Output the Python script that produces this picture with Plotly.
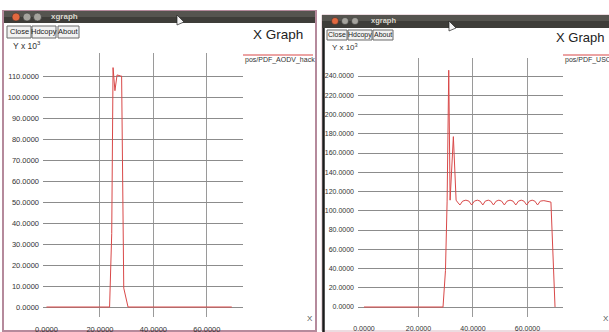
import plotly.graph_objects as go

W, H = 609, 332

# ---- data (x in data units, y in units of 10^3) ----
left_x = [0, 23.6, 24.4, 24.9, 25.6, 26.4, 27.8, 28.1, 28.5, 28.7, 28.8, 28.9, 30.5, 69.3]
left_y = [0, 0, 35, 114, 103, 110.5, 110, 110, 60, 21, 20, 9, 0, 0]

right_x = [0, 29.0, 29.9, 30.5, 31.1, 31.6, 32.8, 33.8, 34.3,
           35.2, 36.2, 37.4, 38.5,
           39.5, 40.5, 41.6, 42.6,
           43.6, 44.5, 45.6, 46.5,
           47.5, 48.5, 49.5, 50.5,
           51.5, 52.5, 53.6, 54.7,
           55.7, 56.7, 57.7, 58.7,
           59.7, 60.7, 61.7, 62.7,
           63.7, 64.7, 66.0, 68.6, 69.0, 70.1]
right_y = [0, 0, 38, 110, 246, 111, 177, 111, 109,
           106, 110, 111, 110,
           106, 110, 111, 110,
           106, 110, 111, 110,
           106, 110, 111, 110,
           106, 110, 111, 110,
           106, 110, 111, 110,
           106, 110, 111, 110,
           106, 110, 110.5, 109, 80, 0]

left_yticks = [0, 10, 20, 30, 40, 50, 60, 70, 80, 90, 100, 110]
right_yticks = [0, 20, 40, 60, 80, 100, 120, 140, 160, 180, 200, 220, 240]
xticks = [0, 20, 40, 60]
xgrid = [20, 40, 60]

left_legend = "pos/PDF_AODV_hack"
right_legend = "pos/PDF_USO"

LINE = "#d94848"
GRID = "#8c8c8c"
FONT = "Liberation Sans"


def px(x):
    return x / W


def py(y):
    return 1 - y / H


fig = go.Figure()
fig.add_trace(go.Scatter(x=left_x, y=left_y, mode="lines", xaxis="x", yaxis="y",
                         line=dict(color=LINE, width=1), hoverinfo="skip", showlegend=False))
fig.add_trace(go.Scatter(x=right_x, y=right_y, mode="lines", xaxis="x2", yaxis="y2",
                         line=dict(color=LINE, width=1), hoverinfo="skip", showlegend=False))


def xaxis(domain, rng, size, anchor):
    return dict(domain=domain, range=rng, tickvals=xticks, tickformat=".4f", anchor=anchor,
                showgrid=False, zeroline=False, showline=False, ticks="", automargin=False,
                ticklabelstandoff=6, tickfont=dict(family=FONT, size=size, color="#333"),
                minor=dict(tickvals=xgrid, showgrid=True, gridcolor="#9a9a9a", gridwidth=1, ticks=""),
                fixedrange=True)


def yaxis(domain, rng, ticks, size, anchor):
    return dict(domain=domain, range=rng, tickvals=ticks, tickformat=".4f", automargin=False,
                showgrid=True, gridcolor=GRID, gridwidth=1, zeroline=False, showline=False,
                ticks="", ticklabelstandoff=3, anchor=anchor,
                tickfont=dict(family=FONT, size=size, color="#333"), fixedrange=True)


shapes = []
ann = []


def rect(x0, y0, x1, y1, fill, line=None, lw=0, layer="below"):
    shapes.append(dict(type="rect", xref="paper", yref="paper",
                       x0=px(x0), x1=px(x1), y0=py(y1), y1=py(y0),
                       fillcolor=fill, line=dict(color=line or fill, width=lw), layer=layer))


def seg(x0, y0, x1, y1, color, w=1, layer="below"):
    shapes.append(dict(type="line", xref="paper", yref="paper",
                       x0=px(x0), x1=px(x1), y0=py(y0), y1=py(y1),
                       line=dict(color=color, width=w), layer=layer))


def circ(cx, cy, r, fill):
    shapes.append(dict(type="circle", xref="paper", yref="paper",
                       x0=px(cx - r), x1=px(cx + r), y0=py(cy + r), y1=py(cy - r),
                       fillcolor=fill, line=dict(color="#2a2a2a", width=0.5), layer="above"))


def text(x, y, s, size, color="#222", xanchor="left", bold=False):
    ann.append(dict(xref="paper", yref="paper", x=px(x), y=py(y), text=("<b>%s</b>" % s) if bold else s,
                    showarrow=False, xanchor=xanchor, yanchor="middle",
                    font=dict(family=FONT, size=size, color=color)))


def button(x0, x1, y0, y1, label, size):
    rect(x0, y0, x1, y1, "#f2f2f2", "#6a6a6a", 1, layer="above")
    text((x0 + x1) / 2, (y0 + y1) / 2, label, size, "#222", xanchor="center")


def cursor(x, y):
    shapes.append(dict(type="path", xref="paper", yref="paper",
                       path="M %f %f L %f %f L %f %f Z" % (px(x), py(y), px(x), py(y + 10), px(x + 7), py(y + 7)),
                       fillcolor="#f4f4f4", line=dict(color="#222", width=0.7), layer="above"))


# ---- left window ----
rect(3, 11, 316, 331, "#ffffff", "#b58a9c", 2)
rect(4, 11, 315, 17, "#55544f", layer="above")
rect(4, 17, 315, 23, "#3e3d39", layer="above")
circ(16, 17, 4, "#e2683f")
circ(27, 17, 4, "#a5a39d")
circ(37.5, 17, 4, "#a5a39d")
text(49, 16.5, "xgraph", 8, "#dcd8cf", bold=True)
cursor(177, 15)
button(7, 31, 26, 38, "Close", 7.5)
button(32, 56, 26, 38, "Hdcopy", 7.5)
button(58, 79, 26, 38, "About", 7.5)
text(11, 45, "Y x 10<sup>3</sup>", 8.5, "#333")
text(251, 35, "X Graph", 13.5, "#222")
seg(243, 55, 313, 55, LINE, 1.2)
text(243, 59.5, left_legend, 7, "#333")
text(310, 318, "X", 8, "#555", xanchor="center")

# ---- right window ----
rect(322, 15, 612, 331, "#ffffff", "#d9b8c2", 1)
seg(323.5, 28, 323.5, 332, "#1c1c1c", 2.5)
rect(322, 15, 609, 21, "#55544f", layer="above")
rect(322, 21, 609, 28, "#3e3d39", layer="above")
circ(335, 21, 3.5, "#e2683f")
circ(345, 21, 3.5, "#a5a39d")
circ(355, 21, 3.5, "#a5a39d")
text(369, 20.5, "xgraph", 7.5, "#dcd8cf", bold=True)
cursor(449, 21)
button(327, 347, 30, 40, "Close", 7)
button(348, 372, 30, 40, "Hdcopy", 7)
button(373, 393, 30, 40, "About", 7)
text(330, 47, "Y x 10<sup>3</sup>", 8, "#333")
text(554, 38, "X Graph", 13, "#222")
seg(563, 55, 609, 55, LINE, 1.2)
text(563, 59.5, right_legend, 7, "#333")
text(606, 318, "X", 8, "#555", xanchor="center")

fig.update_layout(
    width=W, height=H, margin=dict(l=0, r=0, t=0, b=0, pad=0, autoexpand=False),
    paper_bgcolor="#ffffff", plot_bgcolor="rgba(0,0,0,0)",
    xaxis=xaxis([px(43), px(243)], [-1.3, 73.5], 7.5, "y"),
    yaxis=yaxis([py(317), py(53)], [-4.76, 120.95], left_yticks, 7.5, "x"),
    xaxis2=xaxis([px(358), px(563)], [-2.2, 73.03], 7, "y2"),
    yaxis2=yaxis([py(317), py(58)], [-10.39, 258.7], right_yticks, 7, "x2"),
    shapes=shapes, annotations=ann, showlegend=False,
)

fig.write_html("out.html", config={"displayModeBar": False},
               post_script="document.body.style.margin='0';document.body.style.overflow='hidden';")
